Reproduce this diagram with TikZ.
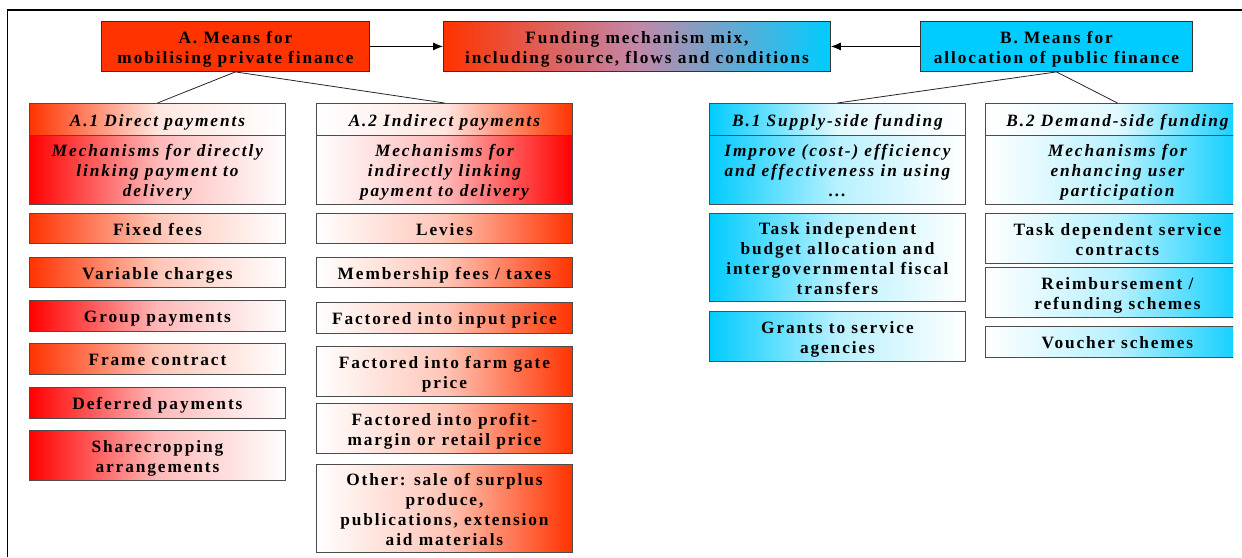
\documentclass[tikz,border=0pt]{standalone}
\usepackage{fontspec}
\newfontfamily\boxfont{Liberation Serif}[LetterSpace=11]
\usetikzlibrary{arrows.meta}
\definecolor{aorange}{RGB}{255,51,0}
\definecolor{ared}{RGB}{255,0,0}
\definecolor{bcyan}{RGB}{0,204,255}
\definecolor{mixmid}{RGB}{195,135,168}
% uniform struts on the first and last line, so text sits alike in every box
\newcommand\boxtext[1]{\rule{0pt}{18pt}#1\rule[-4pt]{0pt}{4pt}}
\begin{document}
\begin{tikzpicture}[x=1pt,y=-1pt,
  every node/.style={inner sep=0pt, align=center,
    font=\boxfont\fontsize{17.3}{20}\selectfont\bfseries},
  box/.style={draw=black!70, line width=0.9pt, anchor=north west,
    minimum width=#1},
  topbox/.style={draw=black!80, line width=0.9pt, anchor=north west,
    minimum height=50pt},
  hdr/.style={font=\boxfont\fontsize{17.3}{20}\selectfont\bfseries\itshape},
  fadeR/.style={left color=#1, right color=white, middle color=#1!28!white},
  fadeL/.style={left color=white, right color=#1, middle color=#1!28!white},
  fadeRh/.style={left color=#1, right color=white, middle color=#1!12!white},
  fadeLh/.style={left color=white, right color=#1, middle color=#1!12!white},
  conn/.style={draw=black!85, line width=0.8pt},
  arr/.style={draw=black, line width=0.9pt, -{Latex[length=10pt,width=8pt]}},
]
\useasboundingbox (0,0) rectangle (1242,557);

% outer frame (top and left edges)
\draw[line width=1.8pt] (7.5,557) -- (7.5,10) -- (1242,10);

% top row
\node[topbox, minimum width=268pt, fill=aorange] (A) at (101,21)
  {\boxtext{A. Means for\\mobilising private finance}};
\node[topbox, minimum width=387pt, left color=aorange, right color=bcyan,
  middle color=mixmid] (F) at (443,21)
  {\boxtext{Funding mechanism mix,\\including source, flows and conditions}};
\node[topbox, minimum width=272pt, fill=bcyan] (B) at (920,21)
  {\boxtext{B. Means for\\allocation of public finance}};

\draw[arr] (A.east) -- (F.west);
\draw[arr] (B.west) -- (F.east);

% A.1 direct payments
\node[box=256pt, hdr, minimum height=32pt, fadeRh=aorange] (a1h) at (29,103)
  {\boxtext{A.1 Direct payments}};
\node[box=256pt, hdr, minimum height=69pt, fadeR=ared] (a1b) at (29,135)
  {\boxtext{Mechanisms for directly\\linking payment to\\delivery}};
\node[box=256pt, minimum height=30pt, fadeR=aorange] (a11) at (29,213)
  {\boxtext{Fixed fees}};
\node[box=256pt, minimum height=30pt, fadeR=aorange] (a12) at (29,257)
  {\boxtext{Variable charges}};
\node[box=256pt, minimum height=31pt, fadeR=ared] (a13) at (29,300)
  {\boxtext{Group payments}};
\node[box=256pt, minimum height=31pt, fadeR=aorange] (a14) at (29,343)
  {\boxtext{Frame contract}};
\node[box=256pt, minimum height=31pt, fadeR=ared] (a15) at (29,387)
  {\boxtext{Deferred payments}};
\node[box=256pt, minimum height=50pt, fadeR=ared] (a16) at (29,430)
  {\boxtext{Sharecropping\\arrangements}};

% A.2 indirect payments
\node[box=256pt, hdr, minimum height=32pt, fadeLh=aorange] (a2h) at (316,103)
  {\boxtext{A.2 Indirect payments}};
\node[box=256pt, hdr, minimum height=69pt, fadeL=ared] (a2b) at (316,135)
  {\boxtext{Mechanisms for\\indirectly linking\\payment to delivery}};
\node[box=256pt, minimum height=30pt, fadeL=aorange] (a21) at (316,213)
  {\boxtext{Levies}};
\node[box=256pt, minimum height=30pt, fadeL=aorange] (a22) at (316,257)
  {\boxtext{Membership fees / taxes}};
\node[box=256pt, minimum height=31pt, fadeL=aorange] (a23) at (316,302)
  {\boxtext{Factored into input price}};
\node[box=256pt, minimum height=50pt, fadeL=aorange] (a24) at (316,346)
  {\boxtext{Factored into farm gate\\price}};
\node[box=256pt, minimum height=50pt, fadeL=aorange] (a25) at (316,403)
  {\boxtext{Factored into profit-\\margin or retail price}};
\node[box=256pt, minimum height=88pt, fadeL=aorange] (a26) at (316,464)
  {\boxtext{Other: sale of surplus\\produce,\\publications, extension\\aid materials}};

% B.1 supply-side funding
\node[box=256pt, hdr, minimum height=32pt, fadeRh=bcyan] (b1h) at (709,103)
  {\boxtext{B.1 Supply-side funding}};
\node[box=256pt, hdr, minimum height=69pt, fadeR=bcyan] (b1b) at (709,135)
  {\boxtext{Improve (cost-) efficiency\\and effectiveness in using\\...}};
\node[box=256pt, minimum height=88pt, fadeR=bcyan] (b11) at (709,213)
  {\boxtext{Task independent\\budget allocation and\\intergovernmental fiscal\\transfers}};
\node[box=256pt, minimum height=50pt, fadeR=bcyan] (b12) at (709,311)
  {\boxtext{Grants to service\\agencies}};

% B.2 demand-side funding (cut off at the right margin)
\begin{scope}
\clip (0,0) rectangle (1233,557);
\node[box=264pt, hdr, minimum height=32pt, fadeLh=bcyan] (b2h) at (985,103)
  {\boxtext{B.2 Demand-side funding}};
\node[box=264pt, hdr, minimum height=69pt, fadeL=bcyan] (b2b) at (985,135)
  {\boxtext{Mechanisms for\\enhancing user\\participation}};
\node[box=264pt, minimum height=50pt, fadeL=bcyan] (b21) at (985,213)
  {\boxtext{Task dependent service\\contracts}};
\node[box=264pt, minimum height=50pt, fadeL=bcyan] (b22) at (985,267)
  {\boxtext{Reimbursement /\\refunding schemes}};
\node[box=264pt, minimum height=31pt, fadeL=bcyan] (b23) at (985,326)
  {\boxtext{Voucher schemes}};
\end{scope}

% tree connectors
\draw[conn] (A.south) -- (a1h.north);
\draw[conn] (A.south) -- (a2h.north);
\draw[conn] (B.south) -- (b1h.north);
\draw[conn] (B.south) -- (b2h.north);
\end{tikzpicture}
\end{document}
